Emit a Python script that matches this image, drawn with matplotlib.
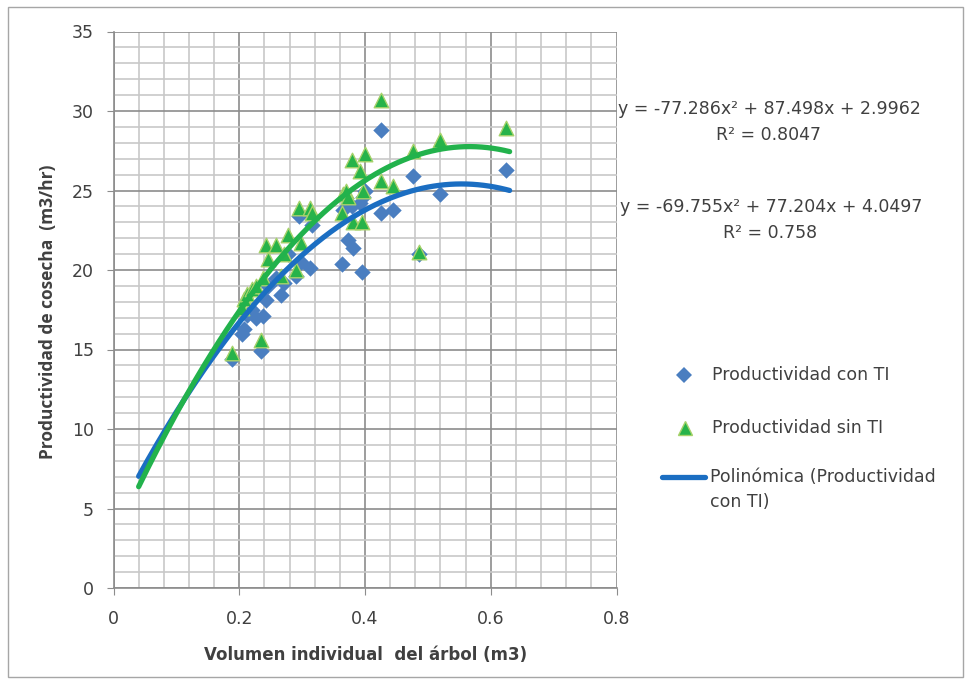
import numpy as np
import matplotlib
matplotlib.use("Agg")
import matplotlib.pyplot as plt
from matplotlib.patches import Rectangle
from matplotlib.lines import Line2D

plt.rcParams['font.family'] = ['DejaVu Sans']

# Individual tree volume (m3) and harvesting productivity (m3/hr)
volumen = [0.188, 0.205, 0.207, 0.212, 0.220, 0.226, 0.235, 0.237, 0.242, 0.245,
           0.259, 0.267, 0.271, 0.278, 0.291, 0.295, 0.299, 0.313, 0.315, 0.363,
           0.365, 0.370, 0.373, 0.379, 0.381, 0.392, 0.395, 0.397, 0.400, 0.425,
           0.426, 0.444, 0.477, 0.486, 0.519, 0.625]
prod_con_ti = [14.4, 16.0, 16.3, 17.2, 17.5, 17.0, 14.9, 17.1, 18.1, 19.0,
               19.5, 18.4, 19.2, 21.0, 19.6, 23.4, 20.5, 20.1, 22.8, 20.4,
               23.8, 24.5, 21.9, 24.0, 21.4, 24.2, 19.9, 24.6, 25.0, 28.8,
               23.6, 23.8, 25.9, 21.0, 24.8, 26.3]
prod_sin_ti = [14.8, 17.6, 18.2, 18.5, 18.8, 19.0, 15.6, 19.5, 21.6, 20.7,
               21.6, 19.6, 21.0, 22.2, 20.0, 23.9, 21.7, 23.9, 23.6, 23.6,
               24.8, 25.0, 24.6, 26.9, 23.0, 26.25, 23.0, 25.0, 27.3, 30.7,
               25.6, 25.3, 27.5, 21.15, 28.2, 28.9]

# Polynomial trendline coefficients (a*x^2 + b*x + c)
coef_con_ti = (-69.755, 77.204, 4.0497)
r2_con_ti = 0.758
coef_sin_ti = (-77.286, 87.498, 2.9962)
r2_sin_ti = 0.8047
trend_range = (0.04, 0.63)

x_ticks = [0, 0.2, 0.4, 0.6, 0.8]
y_ticks = [0, 5, 10, 15, 20, 25, 30, 35]

legend_labels = ['Productividad con TI', 'Productividad sin TI',
                 'Polinómica (Productividad\ncon TI)']

BLUE_PT = '#4a7ec0'
BLUE_LN = '#1b6ec2'
GREEN_PT = '#27b34a'
GREEN_EDGE = '#a6d26a'
GREEN_LN = '#22b24c'
TXT = '#404040'

W, H = 972, 684


def fx(px):
    return px / W


def fy(py):
    return 1 - py / H


fig = plt.figure(figsize=(W / 100, H / 100), dpi=100)
fig.patch.set_facecolor('white')
fig.add_artist(Rectangle((fx(8), fy(677)), fx(955), 670 / H,
                         transform=fig.transFigure, fill=False,
                         edgecolor='#a6a6a6', linewidth=1.0))

ax = fig.add_axes([fx(113.5), fy(588), fx(503), 556.5 / H])
ax.set_xlim(0, 0.8)
ax.set_ylim(0, 35)
ax.set_xticks(x_ticks)
ax.set_xticklabels(['0' if v == 0 else f'{v:g}' for v in x_ticks])
ax.set_yticks(y_ticks)
ax.set_xticks(np.arange(0, 0.8001, 0.04), minor=True)
ax.set_yticks(np.arange(0, 35.001, 1), minor=True)
ax.grid(which='minor', color='#c8c8c8', linewidth=1.2)
ax.grid(which='major', color='#8c8c8c', linewidth=1.2)
ax.set_axisbelow(True)
ax.tick_params(which='minor', length=0)
ax.tick_params(which='major', direction='out', length=5, color='#8c8c8c',
               labelsize=12.5, labelcolor=TXT)
ax.tick_params(axis='x', which='major', pad=11)
ax.tick_params(axis='y', which='major', pad=9)
for s in ['top', 'right']:
    ax.spines[s].set_visible(False)
for s in ['left', 'bottom']:
    ax.spines[s].set_color('#8c8c8c')
    ax.spines[s].set_linewidth(1.2)

ax.scatter(volumen, prod_con_ti, marker='D', s=70, color=BLUE_PT, zorder=3,
           linewidths=0)
ax.scatter(volumen, prod_sin_ti, marker='^', s=110, color=GREEN_PT,
           edgecolors=GREEN_EDGE, linewidths=1.0, zorder=4)

xs = np.linspace(trend_range[0], trend_range[1], 200)
ax.plot(xs, np.polyval(coef_con_ti, xs), color=BLUE_LN, linewidth=3.8,
        solid_capstyle='round', zorder=5)
ax.plot(xs, np.polyval(coef_sin_ti, xs), color=GREEN_LN, linewidth=3.8,
        solid_capstyle='round', zorder=5)

ax.set_xlabel('Volumen individual  del árbol (m3)', fontsize=12,
              fontweight='bold', color=TXT, va='center')
ax.xaxis.set_label_coords((366 - 113.5) / 503, -(655 - 588) / 556.5)
ax.set_ylabel('Productividad de cosecha  (m3/hr)', fontsize=12.5,
              fontweight='bold', color=TXT, va='center',
              family=['Open Sans', 'DejaVu Sans'])
ax.yaxis.set_label_coords(-(113.5 - 48) / 503, (588 - 312) / 556.5)


def eq_text(c):
    a, b, k = c
    return f'y = {a:g}x² + {b:g}x + {k:g}'


eq_kw = dict(fontsize=12.5, color=TXT, va='center')
fig.text(fx(618), fy(109), eq_text(coef_sin_ti), ha='left', **eq_kw)
fig.text(fx(768), fy(135), f'R² = {r2_sin_ti:g}', ha='center', **eq_kw)
fig.text(fx(620), fy(207), eq_text(coef_con_ti), ha='left', **eq_kw)
fig.text(fx(770), fy(233), f'R² = {r2_con_ti:g}', ha='center', **eq_kw)

# Legend entries
leg_kw = dict(fontsize=12.5, color=TXT, va='center', ha='left')
fig.add_artist(Line2D([fx(684)], [fy(375)], transform=fig.transFigure,
                      linestyle='none', marker='D', markersize=8.5,
                      color=BLUE_PT, markeredgewidth=0))
fig.text(fx(712), fy(375), legend_labels[0], **leg_kw)
fig.add_artist(Line2D([fx(685)], [fy(428)], transform=fig.transFigure,
                      linestyle='none', marker='^', markersize=10.5,
                      color=GREEN_PT, markeredgecolor=GREEN_EDGE))
fig.text(fx(712), fy(428), legend_labels[1], **leg_kw)
fig.add_artist(Line2D([fx(662), fx(705)], [fy(477), fy(477)],
                      transform=fig.transFigure, color=BLUE_LN,
                      linewidth=3.8, solid_capstyle='round'))
fig.text(fx(710), fy(468), legend_labels[2], fontsize=12.5, color=TXT,
         ha='left', va='top', linespacing=1.5)

fig.savefig('out.png', dpi=100, facecolor='white')
